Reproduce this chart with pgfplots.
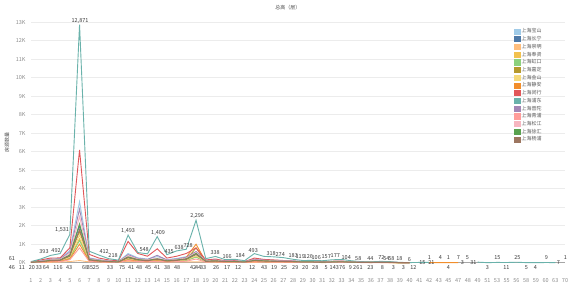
\documentclass[border=0pt]{standalone}
\usepackage{fontspec}
\setmainfont{Noto Sans CJK SC}
\usepackage{pgfplots}
\usepackage{pgfplotstable}
\pgfplotsset{compat=1.18}
\definecolor{cbs}{HTML}{A0CBE8}
\definecolor{ccn}{HTML}{4E79A7}
\definecolor{ccm}{HTML}{FFBE7D}
\definecolor{cfx}{HTML}{F2C14E}
\definecolor{chk}{HTML}{8CD17D}
\definecolor{cjd}{HTML}{B6992D}
\definecolor{cjs}{HTML}{F5DA7A}
\definecolor{cja}{HTML}{F28E2B}
\definecolor{cmh}{HTML}{E15759}
\definecolor{cpd}{HTML}{6AB2AB}
\definecolor{cpt}{HTML}{A386B5}
\definecolor{cqp}{HTML}{FF9D9A}
\definecolor{csj}{HTML}{F7B6C0}
\definecolor{cxh}{HTML}{59A14F}
\definecolor{cyp}{HTML}{9D7660}
\definecolor{labc}{HTML}{3A3A3A}
\definecolor{tickc}{HTML}{8C8C8C}
\definecolor{gridc}{HTML}{ECECEC}

\pgfplotstableread{
x bs cn cm fx hk jd js ja mh pd pt qp sj xh yp
1 33 20 46 13 12 17 15 10 40 61 29 8 25 21 18
2 99 60 11 39 36 51 45 30 150 200 87 24 75 63 54
3 198 120 20 78 72 102 90 60 250 393 174 48 150 126 108
4 231 140 33 91 84 119 105 70 260 492 203 56 175 147 126
5 660 400 64 260 240 340 300 200 800 1531 580 160 500 420 360
6 3300 2000 116 1300 1200 1700 1500 1000 6100 12871 2900 800 2500 2100 1800
7 264 160 43 104 96 136 120 80 450 620 232 64 200 168 144
8 165 100 68 65 60 85 75 50 250 412 145 40 125 105 90
9 99 60 35 39 36 51 45 30 150 218 87 24 75 63 54
10 66 40 25 26 24 34 30 20 100 140 58 16 50 42 36
11 495 300 75 195 180 255 225 150 1150 1493 435 120 375 315 270
12 264 160 41 104 96 136 120 80 500 548 232 64 200 168 144
13 198 120 48 78 72 102 90 60 350 480 174 48 150 126 108
14 330 200 45 130 120 170 150 100 750 1409 400 80 250 210 180
15 165 100 41 65 60 85 75 50 250 435 145 40 125 105 90
16 231 140 38 91 84 119 105 120 350 638 203 56 175 147 126
17 330 200 48 130 120 170 150 300 500 728 290 80 250 210 180
18 600 450 42 325 300 800 375 1000 800 2296 600 200 550 500 450
19 132 80 44 52 48 68 60 60 150 220 116 32 100 84 72
20 165 100 33 65 60 85 75 50 200 338 145 40 125 105 90
21 99 60 26 39 36 51 45 30 100 166 87 24 75 63 54
22 99 60 17 39 36 51 45 30 110 184 87 24 75 63 54
23 66 40 12 26 24 34 30 20 60 110 58 16 50 42 36
24 198 120 12 78 72 102 90 60 250 493 174 48 150 126 108
25 165 100 43 65 60 85 75 50 180 340 145 40 125 105 90
26 132 80 19 52 48 68 60 40 150 318 116 32 100 84 72
27 116 70 25 46 42 60 53 35 120 274 102 28 88 74 63
28 99 60 29 39 36 51 45 30 90 183 87 24 75 63 54
29 66 40 20 26 24 34 30 20 60 119 58 16 50 42 36
30 66 40 28 26 24 34 30 20 70 126 58 16 50 42 36
31 50 30 5 20 18 26 23 15 50 106 44 12 38 32 27
32 66 40 14 26 24 34 30 20 80 157 58 16 50 42 36
33 83 50 37 33 30 43 38 25 90 177 73 20 63 53 45
34 50 30 9 20 18 26 23 15 50 104 44 12 38 32 27
35 33 20 26 13 12 17 15 10 30 58 29 8 25 21 18
36 26 16 23 10 10 14 12 8 20 44 23 6 20 17 14
37 33 20 8 13 12 17 15 10 30 72 29 8 25 21 18
38 26 16 3 10 10 14 12 8 25 58 23 6 20 17 14
39 10 6 3 4 4 5 5 3 8 18 9 2 8 6 5
40 3 2 12 1 1 2 2 1 3 6 3 1 3 2 2
41 nan nan nan nan nan nan nan nan nan 15 nan nan nan nan nan
42 nan nan nan nan nan nan nan 1 nan 21 nan nan nan nan nan
43 nan nan nan nan nan nan nan 4 nan nan nan nan nan nan nan
44 nan nan nan nan nan nan nan 1 nan nan nan nan nan nan nan
45 nan nan nan nan nan nan nan 7 nan nan nan nan nan nan nan
46 nan nan nan nan nan nan nan nan nan nan nan nan nan nan nan
47 nan nan nan nan nan nan nan nan nan 31 nan nan nan nan nan
48 nan nan nan nan nan nan nan nan nan 3 nan nan nan nan nan
49 nan nan nan nan nan nan nan nan nan 15 nan nan nan nan nan
50 nan nan nan nan nan nan nan nan nan 11 nan nan nan nan nan
51 nan nan nan nan nan nan nan nan nan 25 nan nan nan nan nan
52 nan nan nan nan nan nan nan nan nan 5 nan nan nan nan nan
53 nan nan nan nan nan nan nan nan nan 4 nan nan nan nan nan
54 nan nan nan nan nan nan nan nan nan 9 nan nan nan nan nan
55 nan nan nan nan nan nan nan nan nan 7 nan nan nan nan nan
56 nan nan nan nan nan nan nan nan nan nan nan nan nan nan nan
}\data

\pgfplotstableread{
x y t
-0.96 61 61
2.34 393 393
3.58 492 492
4.20 1531 1,531
6.05 12871 12,871
8.53 412 412
9.45 218 218
11.0 1493 1,493
12.65 548 548
14.09 1409 1,409
15.23 435 435
16.26 638 638
17.19 728 728
18.11 2296 2,296
19.97 338 338
21.21 166 166
22.55 184 184
23.89 493 493
25.74 318 318
26.67 274 274
28.01 183 183
28.73 119 119
29.56 126 126
30.38 106 106
31.41 157 157
32.34 177 177
33.47 104 104
34.71 58 58
35.95 44 44
37.08 72 72
37.60 54 54
38.11 58 58
38.94 18 18
39.97 6 6
42.03 75 1
43.16 75 4
43.99 75 1
45.02 75 7
45.95 75 5
49.04 75 15
51.10 75 25
54.09 75 9
56.05 75 1
}\toplabs

\pgfplotstableread{
x y t
-0.96 0 46
0.07 0 11
1.10 0 20
1.82 0 33
2.55 0 64
3.78 0 116
4.92 0 43
6.57 0 68
7.08 0 35
7.70 0 25
9.14 0 33
10.38 0 75
11.31 0 41
12.13 0 48
13.06 0 45
13.99 0 41
15.02 0 38
16.05 0 48
17.70 0 42
18.22 0 44
18.73 0 33
20.07 0 26
21.21 0 17
22.34 0 12
23.78 0 12
25.02 0 43
26.05 0 19
27.08 0 25
28.22 0 29
29.25 0 20
30.28 0 28
31.41 0 5
32.24 0 143
33.06 0 76
33.89 0 9
34.50 0 26
35.00 0 1
35.95 0 23
37.19 0 8
38.32 0 3
39.35 0 3
40.38 0 12
43.99 0 4
48.01 0 3
49.97 0 11
52.03 0 5
52.96 0 4
}\botlabs

\pgfplotstableread{
x y t
41.31 0 15
42.24 0 21
45.43 0 3
46.57 0 31
55.33 0 7
}\inlabs

\begin{document}
\begin{tikzpicture}
\useasboundingbox (-31pt,-27.3pt) rectangle (547pt,262.7pt);
\begin{axis}[
  scale only axis, width=534pt, height=240.5pt,
  xmin=1, xmax=56, ymin=0, ymax=13000,
  clip=false,
  unbounded coords=jump,
  scaled ticks=false,
  axis lines=left,
  axis line style={-},
  y axis line style={draw=none},
  x axis line style={draw=black!35, line width=0.5pt},
  ymajorgrids, grid style={draw=gridc, line width=0.5pt},
  ytick={0,1000,2000,3000,4000,5000,6000,7000,8000,9000,10000,11000,12000,13000},
  yticklabels={0K,1K,2K,3K,4K,5K,6K,7K,8K,9K,10K,11K,12K,13K},
  xtick={1,...,56},
  xticklabels={1,2,3,4,5,6,7,8,9,10,11,12,13,14,15,16,17,18,19,20,21,22,23,24,25,26,27,28,29,30,31,32,33,34,35,36,37,38,39,40,41,42,43,45,47,48,49,51,53,55,56,58,59,60,63,70},
  major tick length=0pt,
  tick label style={font=\fontsize{5.5}{6}\selectfont, text=tickc},
  xticklabel style={yshift=-12pt},
  yticklabel style={xshift=-2pt},
  title={总高（层）},
  title style={font=\fontsize{5}{6}\selectfont, text=black!70, at={(axis description cs:0.481,1)}, anchor=center, yshift=9pt},
  ylabel={房源数量},
  ylabel style={font=\fontsize{5}{6}\selectfont, text=black!70, at={(axis description cs:-0.045,0.5)}, anchor=center},
  legend style={at={(rel axis cs:0.9045,0.978)}, anchor=north west, draw=none, fill=none,
    font=\fontsize{5}{6}\selectfont, text=black!65, inner sep=0pt, row sep=0pt,
    nodes={inner sep=1pt}},
  legend cell align=left,
  legend image code/.code={\fill[#1] (0pt,-2.6pt) rectangle (5.5pt,2.6pt);},
  every axis plot/.append style={line width=0.9pt, mark=none},
]
\addplot[color=cbs] table[x=x,y=bs]{\data};
\addplot[color=ccn] table[x=x,y=cn]{\data};
\addplot[color=ccm] table[x=x,y=cm]{\data};
\addplot[color=cfx] table[x=x,y=fx]{\data};
\addplot[color=chk] table[x=x,y=hk]{\data};
\addplot[color=cjd] table[x=x,y=jd]{\data};
\addplot[color=cjs] table[x=x,y=js]{\data};
\addplot[color=cja] table[x=x,y=ja]{\data};
\addplot[color=cmh] table[x=x,y=mh]{\data};
\addplot[color=cpd] table[x=x,y=pd]{\data};
\addplot[color=cpt] table[x=x,y=pt]{\data};
\addplot[color=cqp] table[x=x,y=qp]{\data};
\addplot[color=csj] table[x=x,y=sj]{\data};
\addplot[color=cxh] table[x=x,y=xh]{\data};
\addplot[color=cyp] table[x=x,y=yp]{\data};
\legend{上海宝山,上海长宁,上海崇明,上海奉贤,上海虹口,上海嘉定,上海金山,上海静安,上海闵行,上海浦东,上海普陀,上海青浦,上海松江,上海徐汇,上海杨浦}

\addplot[draw=none, forget plot, nodes near coords, point meta=explicit symbolic,
  nodes near coords style={anchor=south, font=\fontsize{5.5}{6}\selectfont, text=labc, inner sep=1pt}]
  table[x=x,y=y,meta=t]{\toplabs};
\addplot[draw=none, forget plot, nodes near coords, point meta=explicit symbolic,
  nodes near coords style={anchor=north, font=\fontsize{5.5}{6}\selectfont, text=labc, inner sep=1pt, yshift=-1pt}]
  table[x=x,y=y,meta=t]{\botlabs};
\addplot[draw=none, forget plot, nodes near coords, point meta=explicit symbolic,
  nodes near coords style={anchor=center, font=\fontsize{5.5}{6}\selectfont, text=labc, inner sep=1pt}]
  table[x=x,y=y,meta=t]{\inlabs};
\end{axis}
\end{tikzpicture}
\end{document}
